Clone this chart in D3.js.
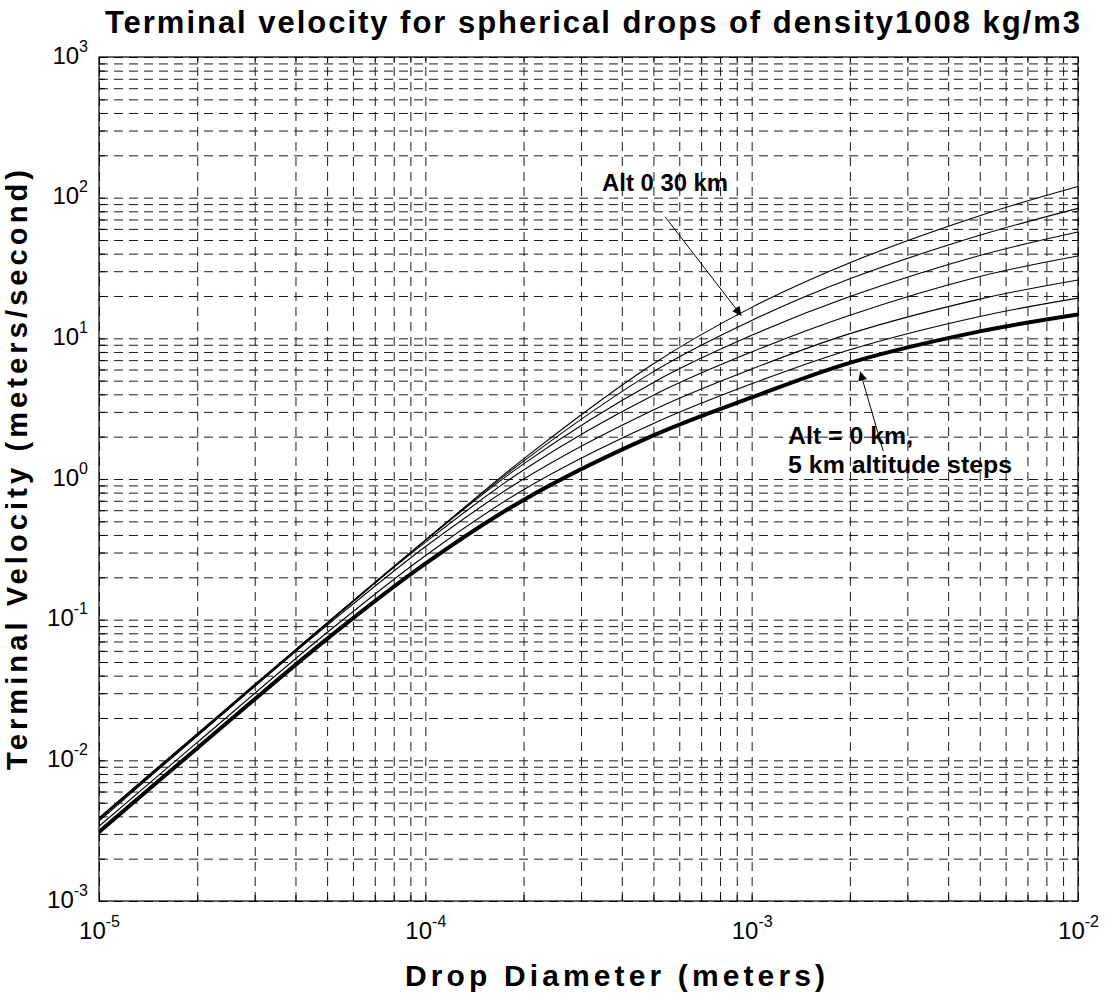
<!DOCTYPE html>
<html>
<head>
<meta charset="utf-8">
<script src="https://cdn.jsdelivr.net/npm/d3@7/dist/d3.min.js"></script>
<style>
  body { margin: 0; background: #fff; }
  svg { font-family: "Liberation Sans", Arial, sans-serif; }
</style>
</head>
<body>
<div id="chart"></div>
<script>
const diameters = [1e-5, 2e-5, 5e-5, 1e-4, 2e-4, 5e-4, 1e-3, 2e-3, 5e-3, 1e-2];

// terminal velocity (m/s) per altitude
const v0km  = [0.0031, 0.0122, 0.073, 0.25,  0.71, 2.04, 3.8,  6.7,  11.2, 14.8];
const v5km  = [0.0034, 0.0134, 0.081, 0.285, 0.84, 2.48, 4.75, 8.3,  14.3, 19.3];
const v10km = [0.0038, 0.0150, 0.091, 0.33,  1.00, 3.1,  6.05, 10.8, 19.0, 26.0];
const v15km = [0.0039, 0.0154, 0.095, 0.354, 1.16, 3.94, 8.0,  14.6, 27.5, 38.5];
const v20km = [0.0039, 0.0155, 0.095, 0.366, 1.28, 4.86, 10.5, 19.8, 38.8, 57];
const v25km = [0.0038, 0.0152, 0.094, 0.368, 1.34, 5.8,  13.4, 26.5, 54,   84];
const v30km = [0.0037, 0.0149, 0.093, 0.366, 1.39, 6.6,  16.6, 34.5, 74.5, 120];

const altitudes = [0, 5, 10, 15, 20, 25, 30];
const seriesValues = [v0km, v5km, v10km, v15km, v20km, v25km, v30km];

// axis ticks (decades)
const xTickValues = [1e-5, 1e-4, 1e-3, 1e-2];
const yTickValues = [1e-3, 1e-2, 1e-1, 1e0, 1e1, 1e2, 1e3];

const titleText = "Terminal velocity for spherical drops of density1008 kg/m3";
const xLabelText = "Drop Diameter (meters)";
const yLabelText = "Terminal Velocity (meters/second)";

const W = 1105, H = 995;
const margin = {top: 57, right: 27, bottom: 94, left: 99};
const width = W - margin.left - margin.right;
const height = H - margin.top - margin.bottom;

const svg = d3.select("#chart").append("svg")
    .attr("width", W)
    .attr("height", H);

const g = svg.append("g").attr("transform", `translate(${margin.left},${margin.top})`);

const x = d3.scaleLog().domain([1e-5, 1e-2]).range([0, width]);
const y = d3.scaleLog().domain([1e-3, 1e3]).range([height, 0]);

// 1..9 times each decade, for the grid
function decadeSteps(lo, hi) {
    const out = [];
    for (let k = lo; k < hi; k++) {
        for (let m = 1; m <= 9; m++) out.push(m * Math.pow(10, k));
    }
    out.push(Math.pow(10, hi));
    return out;
}
const xGridValues = decadeSteps(-5, -2);
const yGridValues = decadeSteps(-3, 3);

// dashed grid
g.append("g")
    .attr("class", "grid")
    .attr("transform", `translate(0,${height})`)
    .call(d3.axisBottom(x).tickValues(xGridValues).tickSize(-height).tickFormat(""))
    .call(s => s.select(".domain").remove());
g.append("g")
    .attr("class", "grid")
    .call(d3.axisLeft(y).tickValues(yGridValues).tickSize(-width).tickFormat(""))
    .call(s => s.select(".domain").remove());
g.selectAll(".grid line")
    .attr("stroke", "#1a1a1a")
    .attr("stroke-width", 1)
    .attr("stroke-dasharray", "9,6");

// inside tick marks on the four sides
function styleTicks(s) {
    s.select(".domain").remove();
    s.selectAll("line").attr("stroke", "#000");
}
g.append("g").attr("transform", `translate(0,${height})`)
    .call(d3.axisBottom(x).tickValues(xGridValues).tickSize(-6).tickFormat("")).call(styleTicks);
g.append("g")
    .call(d3.axisTop(x).tickValues(xGridValues).tickSize(-6).tickFormat("")).call(styleTicks);
g.append("g")
    .call(d3.axisLeft(y).tickValues(yGridValues).tickSize(-6).tickFormat("")).call(styleTicks);
g.append("g").attr("transform", `translate(${width},0)`)
    .call(d3.axisRight(y).tickValues(yGridValues).tickSize(-6).tickFormat("")).call(styleTicks);

// tick labels 10^n
function powerLabel(sel) {
    sel.each(function(d) {
        const t = d3.select(this);
        t.text(null);
        t.append("tspan").attr("font-size", 24).text("10");
        t.append("tspan").attr("font-size", 16).attr("dy", -12)
            .text(Math.round(Math.log10(d)));
    });
}
const xAxis = g.append("g")
    .attr("transform", `translate(0,${height})`)
    .call(d3.axisBottom(x).tickValues(xTickValues).tickSize(0).tickFormat(""));
xAxis.select(".domain").remove();
xAxis.selectAll(".tick text")
    .attr("y", 38).attr("dy", null)
    .attr("fill", "#000")
    .call(powerLabel);

const yAxis = g.append("g")
    .call(d3.axisLeft(y).tickValues(yTickValues).tickSize(0).tickFormat(""));
yAxis.select(".domain").remove();
yAxis.selectAll(".tick text")
    .attr("x", -11).attr("dy", null).attr("y", 6)
    .attr("fill", "#000")
    .call(powerLabel);

// curves
const line = d3.line()
    .x(d => x(d[0]))
    .y(d => y(d[1]))
    .curve(d3.curveCatmullRom);

svg.append("clipPath").attr("id", "plotclip")
    .append("rect").attr("width", width).attr("height", height);

g.append("g").attr("clip-path", "url(#plotclip)")
    .selectAll("path")
    .data(altitudes.map((a, i) => ({alt: a, pts: diameters.map((d, j) => [d, seriesValues[i][j]])})))
    .join("path")
    .attr("d", d => line(d.pts))
    .attr("fill", "none")
    .attr("stroke", "#000")
    .attr("stroke-width", d => d.alt === 0 ? 4 : 1.1)
    .attr("stroke-linejoin", "round");

// axes box
g.append("rect")
    .attr("width", width).attr("height", height)
    .attr("fill", "none").attr("stroke", "#000").attr("stroke-width", 1.2);

// annotations (anchored in data space)
svg.append("defs").append("marker")
    .attr("id", "head")
    .attr("viewBox", "0 0 10 10")
    .attr("refX", 10).attr("refY", 5)
    .attr("markerWidth", 17).attr("markerHeight", 9)
    .attr("markerUnits", "userSpaceOnUse")
    .attr("orient", "auto")
    .append("path").attr("d", "M0,0 L10,5 L0,10 z").attr("fill", "#000");

const notes = g.append("g").attr("font-weight", "bold").attr("font-size", 23).attr("fill", "#000");

notes.append("text")
    .attr("x", x(3.48e-4)).attr("y", y(111))
    .attr("textLength", 126).attr("lengthAdjust", "spacingAndGlyphs")
    .text("Alt 0 30 km");
g.append("line")
    .attr("x1", x(5.43e-4)).attr("y1", y(73))
    .attr("x2", x(9.3e-4)).attr("y2", y(14.5))
    .attr("stroke", "#000").attr("stroke-width", 1)
    .attr("marker-end", "url(#head)");

notes.append("text")
    .attr("x", x(1.293e-3)).attr("y", y(1.776))
    .attr("textLength", 125).attr("lengthAdjust", "spacingAndGlyphs")
    .text("Alt = 0 km,");
notes.append("text")
    .attr("x", x(1.293e-3)).attr("y", y(1.776) + 29)
    .attr("textLength", 224).attr("lengthAdjust", "spacingAndGlyphs")
    .text("5 km altitude steps");
g.append("line")
    .attr("x1", x(2.53e-3)).attr("y1", y(1.58))
    .attr("x2", x(2.15e-3)).attr("y2", y(5.8))
    .attr("stroke", "#000").attr("stroke-width", 1)
    .attr("marker-end", "url(#head)");

// title and axis labels
svg.append("text")
    .attr("x", 105).attr("y", 33)
    .attr("font-size", 31).attr("font-weight", "bold")
    .attr("textLength", 975).attr("lengthAdjust", "spacing")
    .text(titleText);

svg.append("text")
    .attr("x", 615).attr("y", 986)
    .attr("text-anchor", "middle")
    .attr("font-size", 30).attr("font-weight", "bold")
    .attr("textLength", 420).attr("lengthAdjust", "spacing")
    .text(xLabelText);

svg.append("text")
    .attr("transform", "translate(27,470) rotate(-90)")
    .attr("text-anchor", "middle")
    .attr("font-size", 29).attr("font-weight", "bold")
    .attr("textLength", 600).attr("lengthAdjust", "spacing")
    .text(yLabelText);
</script>
</body>
</html>
